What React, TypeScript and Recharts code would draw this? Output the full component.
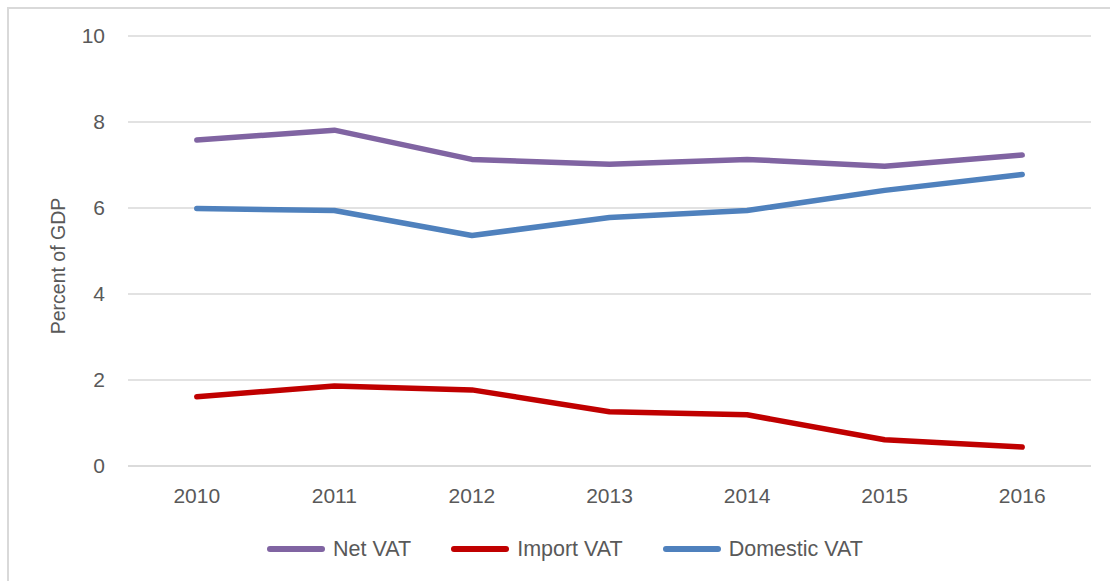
import React from "react";
import { LineChart, Line, XAxis, YAxis, CartesianGrid, Legend } from "recharts";

const years = ["2010", "2011", "2012", "2013", "2014", "2015", "2016"];
const netVat = [7.58, 7.81, 7.13, 7.02, 7.13, 6.97, 7.23];
const importVat = [1.61, 1.86, 1.77, 1.26, 1.19, 0.61, 0.44];
const domesticVat = [5.99, 5.94, 5.36, 5.78, 5.94, 6.41, 6.78];
const yTicks = [0, 2, 4, 6, 8, 10];

const series = [
  { key: "net", name: "Net VAT", color: "#8064A2" },
  { key: "imp", name: "Import VAT", color: "#C00000" },
  { key: "dom", name: "Domestic VAT", color: "#4F81BD" },
];

const data = years.map((year, i) => ({
  year,
  net: netVat[i],
  imp: importVat[i],
  dom: domesticVat[i],
}));

const FONT = "'Liberation Sans', Arial, sans-serif";
const TEXT = "#595959";

function LegendContent() {
  return (
    <div style={{ display: "flex", justifyContent: "center", alignItems: "center", paddingLeft: 10, height: 40 }}>
      {series.map((s, i) => (
        <div key={s.key} style={{ display: "flex", alignItems: "center", marginLeft: i === 0 ? 0 : 40 }}>
          <svg width={58} height={8} style={{ display: "block" }}>
            <line x1={3} y1={4} x2={55} y2={4} stroke={s.color} strokeWidth={6} strokeLinecap="round" />
          </svg>
          <span style={{ marginLeft: 8, fontSize: 21.5, color: TEXT, fontFamily: FONT }}>{s.name}</span>
        </div>
      ))}
    </div>
  );
}

export default function App() {
  return (
    <div
      style={{
        position: "fixed",
        left: 7,
        top: 7,
        width: 1110,
        height: 581,
        borderLeft: "2px solid #d9d9d9",
        borderTop: "2px solid #d9d9d9",
        background: "#fff",
      }}
    >
      <LineChart
        width={1102}
        height={566}
        data={data}
        margin={{ top: 27, right: 20, bottom: 6, left: 0 }}
        style={{ fontFamily: FONT }}
      >
        <CartesianGrid vertical={false} stroke="#d9d9d9" strokeWidth={1.5} />
        <XAxis
          dataKey="year"
          scale="band"
          height={63}
          tickSize={0}
          tickMargin={22}
          axisLine={{ stroke: "#d9d9d9", strokeWidth: 1.5 }}
          tick={{ fontSize: 21, fill: TEXT }}
        />
        <YAxis
          domain={[0, 10]}
          ticks={yTicks}
          width={119}
          tickSize={0}
          tickMargin={23}
          axisLine={false}
          tick={{ fontSize: 21, fill: TEXT }}
          label={{
            content: (props: any) => {
              const vb = props.viewBox;
              const cx = vb.x + 49;
              const cy = vb.y + vb.height / 2 + 15;
              return (
                <text
                  x={cx}
                  y={cy}
                  transform={`rotate(-90, ${cx}, ${cy})`}
                  textAnchor="middle"
                  dominantBaseline="central"
                  fontSize={19.5}
                  fill={TEXT}
                  fontFamily={FONT}
                >
                  Percent of GDP
                </text>
              );
            },
          }}
        />
        <Legend verticalAlign="bottom" height={40} wrapperStyle={{ left: 0, width: 1102 }} content={() => <LegendContent />} />
        {series.map((s) => (
          <Line
            key={s.key}
            dataKey={s.key}
            name={s.name}
            stroke={s.color}
            strokeWidth={5.5}
            strokeLinecap="round"
            strokeLinejoin="round"
            dot={false}
            activeDot={false}
            isAnimationActive={false}
          />
        ))}
      </LineChart>
    </div>
  );
}
